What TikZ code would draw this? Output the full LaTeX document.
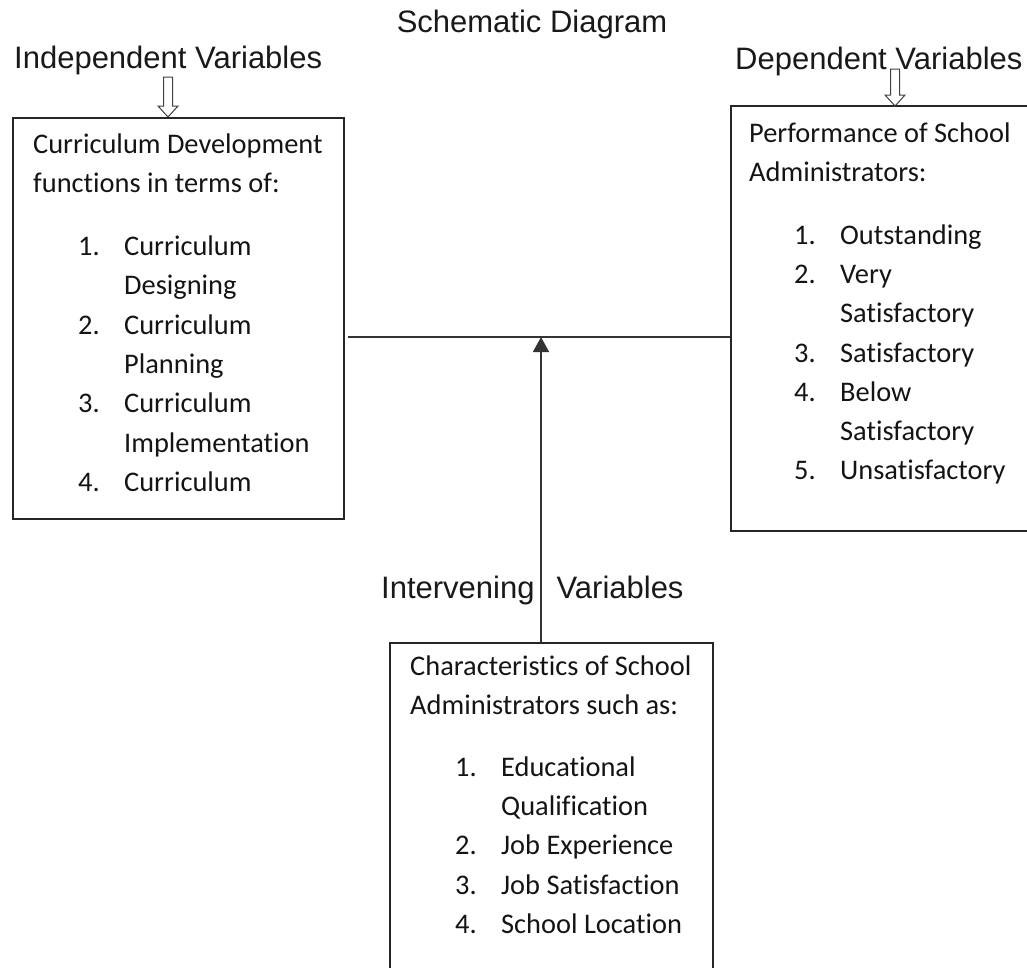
\documentclass[tikz,border=0pt]{standalone}
\usepackage{fontspec}
\setmainfont{Liberation Sans}
\newfontfamily\bodyfont[Ligatures={NoCommon,NoContextual}]{Carlito}
\usetikzlibrary{arrows.meta}
% numbered entry, and the continuation line of a wrapped entry
\newcommand{\numitem}[2]{\hspace*{45pt}\makebox[46pt][l]{#1}#2}
\newcommand{\numcont}[1]{\hspace*{91pt}#1}
\newcommand{\boxtext}[1]{\parbox[t]{330pt}{\bodyfont\fontsize{28.4}{39.3}\selectfont #1}}

\begin{document}
\begin{tikzpicture}[x=1pt,y=-1pt,
  box/.style={draw=black!85, line width=1.8pt, rectangle, inner sep=0pt, anchor=north west},
  lbl/.style={font=\fontsize{31}{36}\selectfont, inner sep=0pt, text=black!90},
  body/.style={inner sep=0pt, anchor=base west, text=black!92},
  conn/.style={draw=black!80, line width=1.6pt},
  hollow/.style={draw=black!75, line width=1pt, line join=miter}]
\useasboundingbox (0,0) rectangle (1027,967);
\clip (0,0) rectangle (1027,967);

% headings
\node[lbl, anchor=base] (title) at (532,32) {Schematic Diagram};
\node[lbl, anchor=base west] (indeplbl) at (14,68) {Independent Variables};
\node[lbl, anchor=base west] (deplbl) at (735,69) {Dependent Variables};
\node[lbl, anchor=base west] (interlbl) at (381,598) {Intervening\hspace*{22pt}Variables};

% boxes
\node[box, minimum width=331pt, minimum height=401pt] (indep) at (12,117) {};
\node[box, minimum width=330pt, minimum height=425pt] (dep) at (730,105) {};
\node[box, minimum width=323pt, minimum height=340pt] (inter) at (389,642) {};

% box contents
\node[body] (indeptext) at (33,153) {\boxtext{%
Curriculum Development\\
functions in terms of:\\[24pt]
\numitem{1.}{Curriculum}\\
\numcont{Designing}\\
\numitem{2.}{Curriculum}\\
\numcont{Planning}\\
\numitem{3.}{Curriculum}\\
\numcont{Implementation}\\
\numitem{4.}{Curriculum}}};

\node[body] (deptext) at (749,142) {\boxtext{%
Performance of School\\
Administrators:\\[23.5pt]
\numitem{1.}{Outstanding}\\
\numitem{2.}{Very}\\
\numcont{Satisfactory}\\
\numitem{3.}{Satisfactory}\\
\numitem{4.}{Below}\\
\numcont{Satisfactory}\\
\numitem{5.}{Unsatisfactory}}};

\node[body] (intertext) at (410,675) {\boxtext{%
Characteristics of School\\
Administrators such as:\\[22.5pt]
\numitem{1.}{Educational}\\
\numcont{Qualification}\\
\numitem{2.}{Job Experience}\\
\numitem{3.}{Job Satisfaction}\\
\numitem{4.}{School Location}}};

% hollow arrows from the headings down to their boxes
\coordinate (ia) at (168,77);
\draw[hollow] (ia) ++(-4.5,0) -- ++(9,0) -- ++(0,29) -- ++(5.5,0) -- ++(-10,11)
  -- ++(-10,-11) -- ++(5.5,0) -- cycle;
\coordinate (da) at (895,69);
\draw[hollow] (da) ++(-4.5,0) -- ++(9,0) -- ++(0,26) -- ++(5.5,0) -- ++(-10,11)
  -- ++(-10,-11) -- ++(5.5,0) -- cycle;

% connector between the two upper boxes
\coordinate (hl) at (348,337);
\draw[conn] (hl) -- (hl -| dep.west);

% arrow from the lower box up to the connector
\coordinate (ab) at (541,642);
\draw[conn, -{Triangle[length=15pt,width=16pt]}] (ab) -- (ab |- hl);
\end{tikzpicture}
\end{document}
